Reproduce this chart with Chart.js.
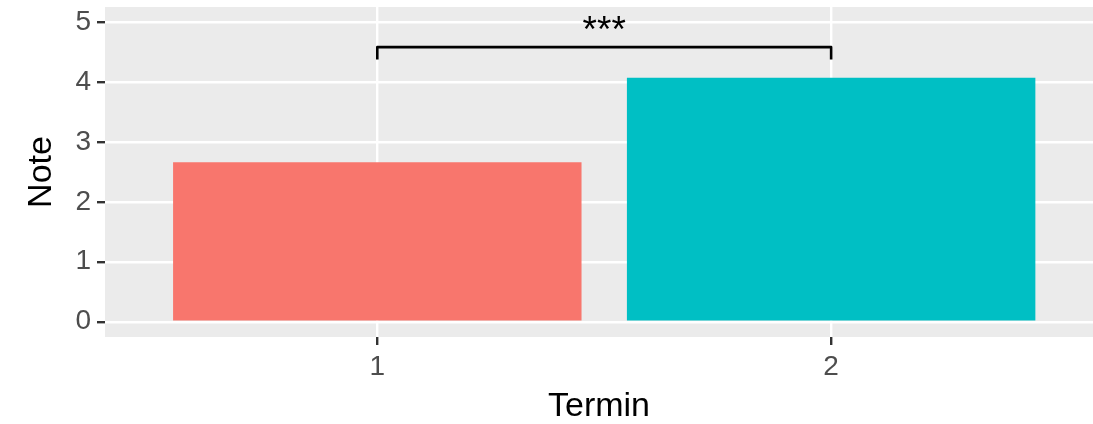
<!DOCTYPE html>
<html>
<head>
<meta charset="utf-8">
<script src="https://cdn.jsdelivr.net/npm/chart.js@4/dist/chart.umd.min.js"></script>
<style>
html,body{margin:0;padding:0;background:#fff;}
#wrap{width:1093px;height:424px;}
</style>
</head>
<body>
<div id="wrap"><canvas id="grafico" width="1093" height="424"></canvas></div>
<script>
// daten
const termine = [1, 2];
const noten = [2.66, 4.07];
const farben = ["#F8766D", "#00BFC4"];
const yMajor = [0, 1, 2, 3, 4, 5];
const yMinor = [0.5, 1.5, 2.5, 3.5, 4.5];
const xTicks = [1, 2];
const klammerX = [1, 2];
const klammerY = [4.58, 4.375];
const sternY = 4.83;
const sterne = "***";

const schrift = "'Liberation Sans', Arial, sans-serif";

const panel = {
id: "panel",
beforeDraw(chart){
const a = chart.chartArea;
const c = chart.ctx;
c.save();
c.fillStyle = "#EBEBEB";
c.fillRect(a.left, a.top, a.right - a.left, a.bottom - a.top);
c.restore();
}
};

const klammer = {
id: "klammer",
afterDatasetsDraw(chart){
const x = chart.scales.x, y = chart.scales.y, c = chart.ctx;
const x1 = x.getPixelForValue(klammerX[0]);
const x2 = x.getPixelForValue(klammerX[1]);
const yo = y.getPixelForValue(klammerY[0]);
const yu = y.getPixelForValue(klammerY[1]);
c.save();
c.strokeStyle = "#000";
c.lineWidth = 2.6;
c.lineJoin = "round";
c.beginPath();
c.moveTo(x1, yu);
c.lineTo(x1, yo);
c.lineTo(x2, yo);
c.lineTo(x2, yu);
c.stroke();
c.fillStyle = "#000";
c.font = "37px " + schrift;
c.textAlign = "center";
c.textBaseline = "middle";
c.fillText(sterne, (x1 + x2) / 2, y.getPixelForValue(sternY));
c.restore();
}
};

new Chart(document.getElementById("grafico"), {
type: "bar",
data: {
datasets: [{
data: termine.map((t, i) => ({x: t, y: noten[i]})),
backgroundColor: farben,
borderWidth: 0,
barPercentage: 0.9,
categoryPercentage: 1
}]
},
options: {
responsive: false,
animation: false,
layout: {padding: {top: 7, right: 0, left: 0, bottom: 0}},
plugins: {legend: {display: false}, tooltip: {enabled: false}},
scales: {
x: {
type: "linear",
min: 0.4,
max: 2.577,
offset: false,
afterBuildTicks: s => { s.ticks = xTicks.map(v => ({value: v})); },
afterFit: s => { s.height = 87; s.paddingLeft = 0; s.paddingRight = 0; },
grid: {offset: false, color: "#fff", lineWidth: 2.4, tickColor: "#333", tickLength: 8},
border: {display: false},
ticks: {color: "#4D4D4D", font: {family: schrift, size: 28}, padding: 5, maxRotation: 0,
callback: v => String(v)},
title: {display: true, text: "Termin", color: "#000", font: {family: schrift, size: 34, lineHeight: 1},
padding: {top: 0, bottom: 0}}
},
y: {
min: -0.255,
max: 5.25,
afterBuildTicks: s => { s.ticks = yMajor.concat(yMinor).sort((a, b) => a - b).map(v => ({value: v})); },
afterFit: s => { s.width = 105; s.paddingTop = 0; s.paddingBottom = 0; },
grid: {
color: "#fff",
lineWidth: ctx => yMajor.includes(ctx.tick.value) ? 2.4 : 1.2,
tickColor: ctx => yMajor.includes(ctx.tick.value) ? "#333" : "rgba(0,0,0,0)",
tickLength: 8
},
border: {display: false},
ticks: {color: "#4D4D4D", font: {family: schrift, size: 28}, padding: 6,
callback: v => yMajor.includes(v) ? String(v) : ""},
title: {display: true, text: "Note", color: "#000", font: {family: schrift, size: 34, lineHeight: 1},
padding: {top: 25, bottom: 0}}
}
}
},
plugins: [panel, klammer]
});
</script>
</body>
</html>
